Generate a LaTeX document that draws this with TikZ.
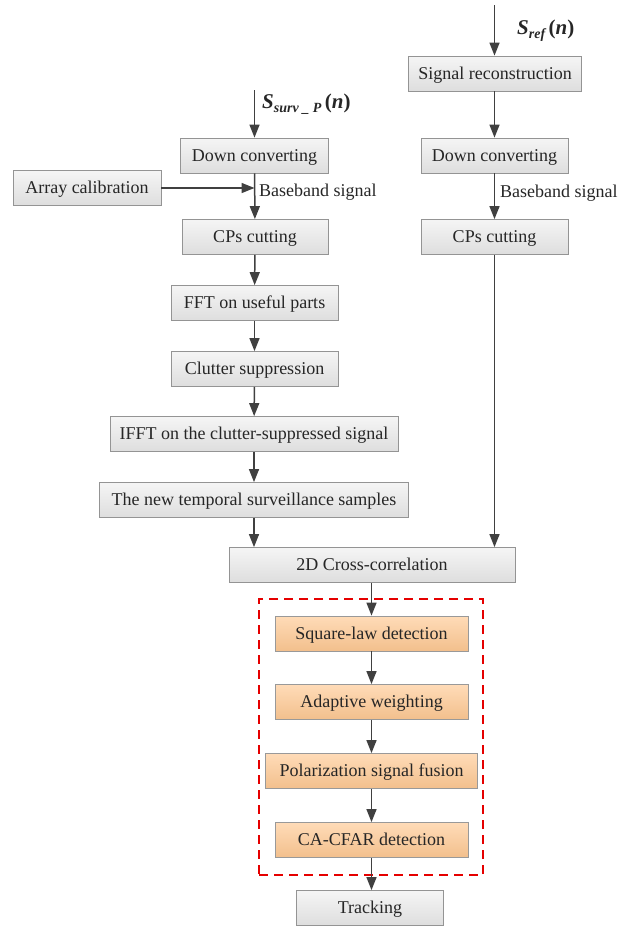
\documentclass[tikz,border=0pt]{standalone}
\usepackage{fontspec}
\setmainfont{Liberation Serif}
\usetikzlibrary{arrows.meta,calc}
\begin{document}
\begin{tikzpicture}[x=1pt,y=-1pt,
  graybox/.style={draw=black!42,line width=0.8pt,top color=white!96!black,bottom color=black!13,minimum height=35pt,inner sep=0pt,font=\rmfamily\fontsize{18}{20}\selectfont,text=black!85,text height=1.3em,text depth=0.2em},
  orangebox/.style={graybox,top color=orange!28!white,bottom color=orange!42!white!95!black,draw=black!40},
  arr/.style={draw=black!75,line width=1.5pt,-{Triangle[length=13pt,width=10pt]}},
  lbl/.style={font=\rmfamily\fontsize{18}{20}\selectfont,text=black!85,inner sep=0pt}]
\useasboundingbox (0,0) rectangle (632,926);
% left column
\node[graybox,minimum width=148pt] (dcl) at (254.5,155.5) {Down converting};
\node[graybox,minimum width=148pt] (ac) at (87,188) {Array calibration};
\node[graybox,minimum width=146pt] (cpl) at (255,237) {CPs cutting};
\node[graybox,minimum width=167pt] (fft) at (254.5,303) {FFT on useful parts};
\node[graybox,minimum width=167pt] (cs) at (254.5,369) {Clutter suppression};
\node[graybox,minimum width=288pt] (ifft) at (254,434) {IFFT on the clutter-suppressed signal};
\node[graybox,minimum width=309pt] (nts) at (254,500) {The new temporal surveillance samples};
% right column
\node[graybox,minimum width=173pt] (sr) at (495,73.5) {Signal reconstruction};
\node[graybox,minimum width=147pt] (dcr) at (494.5,155.5) {Down converting};
\node[graybox,minimum width=147pt] (cpr) at (494.5,237) {CPs cutting};
% merge
\node[graybox,minimum width=286pt] (cc) at (372,565) {2D Cross-correlation};
\node[orangebox,minimum width=193pt] (sq) at (371.5,633.5) {Square-law detection};
\node[orangebox,minimum width=193pt] (aw) at (371.5,702) {Adaptive weighting};
\node[orangebox,minimum width=212pt] (pf) at (371.5,771) {Polarization signal fusion};
\node[orangebox,minimum width=193pt] (cf) at (371.5,840) {CA-CFAR detection};
\node[graybox,minimum width=147pt] (tr) at (370,908) {Tracking};
\node[draw=red!90!black,line width=1.6pt,dash pattern=on 9pt off 6pt,minimum width=224pt,minimum height=276pt,inner sep=0pt] (dash) at (371,737) {};
% inputs
\coordinate (insurv) at (254.5,90);
\coordinate (inref) at (494.5,5);
\coordinate (bbl) at (254.5,188);
\draw[arr] (insurv) -- (dcl);
\draw[arr] (inref) -- (inref |- sr.north);
\node[lbl,anchor=west] (ssurv) at (262,104) {\fontsize{21}{23}\selectfont\bfseries\itshape S\raisebox{-0.45ex}{\fontsize{14}{16}\selectfont surv \_ P}\,\upshape(\itshape n\upshape)};
\node[lbl,anchor=west] (sref) at (517,31) {\fontsize{21}{23}\selectfont\bfseries\itshape S\raisebox{-0.45ex}{\fontsize{14}{16}\selectfont ref}\,\upshape(\itshape n\upshape)};
% left connectors
\draw[arr] (dcl) -- (cpl);
\draw[arr] (ac) -- (bbl);
\node[lbl,anchor=base west] (bbll) at (259,196) {Baseband signal};
\draw[arr] (cpl) -- (fft);
\draw[arr] (fft) -- (cs);
\draw[arr] (cs) -- (ifft);
\draw[arr] (ifft) -- (nts);
\draw[arr] (nts.south) -- (nts.south |- cc.north);
% right connectors
\draw[arr] (sr.south -| inref) -- (inref |- dcr.north);
\draw[arr] (dcr) -- (cpr);
\node[lbl,anchor=base west] (bblr) at (500,197) {Baseband signal};
\draw[arr] (cpr.south) -- (cpr.south |- cc.north);
% bottom
\draw[arr] (cc.south -| sq) -- (sq);
\draw[arr] (sq) -- (aw);
\draw[arr] (aw) -- (pf);
\draw[arr] (pf) -- (cf);
\draw[arr] (cf) -- (cf.south |- tr.north);
\end{tikzpicture}
\end{document}
